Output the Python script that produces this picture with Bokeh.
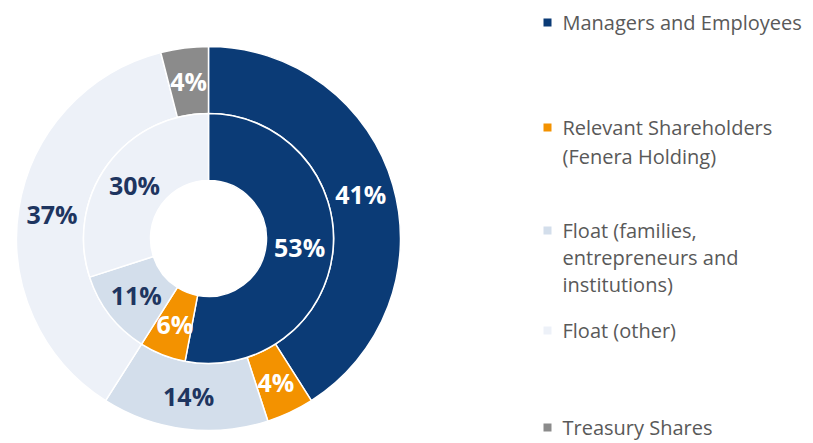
import math
from bokeh.plotting import figure
from bokeh.models import Range1d, ColumnDataSource
from bokeh.core.properties import value
from bokeh.embed import file_html
from bokeh.resources import INLINE

# ---- data ----
categories = ["Managers and Employees", "Relevant Shareholders (Fenera Holding)",
              "Float (families, entrepreneurs and institutions)", "Float (other)",
              "Treasury Shares"]
outer_values = [41, 4, 14, 37, 4]
inner_values = [53, 6, 11, 30, 0]
legend_lines = [["Managers and Employees"],
                ["Relevant Shareholders", "(Fenera Holding)"],
                ["Float (families,", "entrepreneurs and", "institutions)"],
                ["Float (other)"],
                ["Treasury Shares"]]

# ---- styles ----
colors = ["#0B3B76", "#F39200", "#D3DEEB", "#EDF1F8", "#8B8B8B"]
label_colors = ["white", "white", "#1E3560", "#1E3560", "white"]

W, H = 813, 443
p = figure(width=W, height=H, output_backend="svg", toolbar_location=None,
           x_range=Range1d(0, W), y_range=Range1d(0, H), min_border=0)
p.axis.visible = False
p.grid.visible = False
p.outline_line_color = None
p.background_fill_color = "white"

def sy(screen_y):
    return H - screen_y

cx, cy = 208, sy(238)
r_hole, r_mid, r_out = 58, 125, 192

def ring(values, r_in, r_o):
    total = float(sum(values))
    cum = 0.0
    rows = dict(start=[], end=[], color=[], lx=[], ly=[], label=[], lcolor=[])
    rm = (r_in + r_o) / 2
    for v, c, lc in zip(values, colors, label_colors):
        if v <= 0:
            continue
        a0 = math.pi / 2 - 2 * math.pi * cum / total
        a1 = math.pi / 2 - 2 * math.pi * (cum + v) / total
        am = (a0 + a1) / 2
        rows["start"].append(a0)
        rows["end"].append(a1)
        rows["color"].append(c)
        rows["lx"].append(cx + rm * math.cos(am))
        rows["ly"].append(cy + rm * math.sin(am))
        rows["label"].append(f"{v}%")
        rows["lcolor"].append(lc)
        cum += v
    src = ColumnDataSource(rows)
    p.annular_wedge(x=cx, y=cy, inner_radius=r_in, outer_radius=r_o,
                    start_angle="start", end_angle="end", direction="clock",
                    fill_color="color", line_color="white", line_width=1.5,
                    source=src)
    return src

src_out = ring(outer_values, r_mid, r_out)
src_in = ring(inner_values, r_hole, r_mid)

for src in (src_out, src_in):
    p.text(x="lx", y="ly", text="label", text_color="lcolor",
           text_font=value("Open Sans"), text_font_style="bold",
           text_font_size="25px", text_align="center", text_baseline="middle",
           source=src)

# ---- legend ----
legend_y = [[22], [127, 156], [230, 257, 284], [330], [427]]
sq_x, tx = 547, 562
for lines, ys, c in zip(legend_lines, legend_y, colors):
    p.scatter(x=[sq_x], y=[sy(ys[0])], marker="square", size=8,
              fill_color=c, line_color=None)
    p.text(x=[tx] * len(lines), y=[sy(v) for v in ys], text=lines,
           text_color="#595959", text_font=value("Open Sans"),
           text_font_size="20px", text_align="left", text_baseline="middle")

open("out.html", "w").write(file_html(p, INLINE))
